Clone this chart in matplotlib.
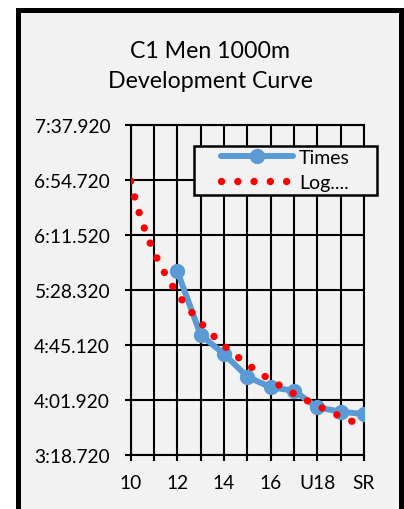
import matplotlib
matplotlib.use('Agg')
import matplotlib.pyplot as plt
import numpy as np
from matplotlib.patches import Rectangle
from matplotlib.ticker import FuncFormatter, FixedLocator

# ---- data ----
categories = ['10', '11', '12', '13', '14', '15', '16', '17', 'U18', 'U20', 'SR']
times_sec = [np.nan, np.nan, 343.0, 293.0, 278.0, 260.2, 251.9, 249.2, 236.1, 232.7, 230.9]
y_ticks_sec = [198.72, 241.92, 285.12, 328.32, 371.52, 414.72, 457.92]
title = "C1 Men 1000m\nDevelopment Curve"
series_label = "Times"
trend_label = "Log...."

FONT = ['Lato', 'DejaVu Sans']
plt.rcParams['font.family'] = FONT

W, H = 404, 510
fig = plt.figure(figsize=(W / 100, H / 100), dpi=100)
fig.patch.set_facecolor('white')

def fx(px):
    return px / W

def fy(py):
    return 1 - py / H

# chart area with thick border
fig.add_artist(Rectangle((fx(17.5), -0.05), fx(400.5) - fx(17.5), fy(10.8) + 0.05,
                         transform=fig.transFigure, facecolor='#F2F2F2',
                         edgecolor='black', linewidth=3.6, zorder=-1))

left, right, top, bottom = 130.7, 364.0, 126.0, 456.0
ax = fig.add_axes([fx(left), fy(bottom), fx(right) - fx(left), fy(top) - fy(bottom)])
ax.patch.set_visible(False)

x = np.arange(len(categories))
y = np.array(times_sec, dtype=float)

line_times, = ax.plot(x, y, color='#5B9BD5', lw=4.3, marker='o', ms=10,
                      solid_capstyle='round', label=series_label, zorder=3)

# logarithmic trendline (Excel style: x = 1..n)
mask = ~np.isnan(y)
xe = x[mask] + 1
coef = np.polyfit(np.log(xe), y[mask], 1)
xx = np.linspace(1, len(categories), 500)
yy = np.polyval(coef, np.log(xx))
line_trend, = ax.plot(xx - 1, yy, color='#FF0000', lw=5.3,
                      linestyle=(0, (0.01, 2.2)), dash_capstyle='round',
                      label=trend_label, zorder=4)

ax.set_xlim(0, len(categories) - 1)
ax.set_ylim(y_ticks_sec[0], y_ticks_sec[-1])
ax.yaxis.set_major_locator(FixedLocator(y_ticks_sec))
ax.xaxis.set_major_locator(FixedLocator(x))

def fmt_time(v, pos=None):
    m = int(v // 60)
    s = v - 60 * m
    return f"{m}:{s:06.3f}"

ax.yaxis.set_major_formatter(FuncFormatter(fmt_time))
ax.set_xticklabels([c if i % 2 == 0 else '' for i, c in enumerate(categories)])

ax.grid(True, color='black', lw=1.5, zorder=1)
ax.set_axisbelow(True)
for sp in ax.spines.values():
    sp.set_color('black')
    sp.set_linewidth(1.5)

ax.tick_params(axis='y', direction='out', length=4, width=1.5, pad=10.8,
               labelsize=13.8, colors='black')
ax.tick_params(axis='x', direction='out', length=4, width=1.5, pad=10,
               labelsize=13.8, colors='black')

fig.text(fx(210.5), fy(66.5), title, ha='center', va='center', fontsize=16.7,
         linespacing=1.58, color='black')

# legend box
fig.add_artist(Rectangle((fx(194), fy(195.5)), fx(376.5) - fx(194), fy(147) - fy(195.5),
                         transform=fig.transFigure, facecolor='#F2F2F2',
                         edgecolor='black', linewidth=1.8, zorder=4))
fs_px = 14 * 100 / 72
fig.legend([line_times, line_trend], [series_label, trend_label],
           loc='upper left', bbox_to_anchor=(fx(221), fy(149.5)),
           bbox_transform=fig.transFigure, frameon=False, borderpad=0,
           borderaxespad=0, handlelength=72 / fs_px, handletextpad=6 / fs_px,
           labelspacing=0.45, fontsize=14).set_zorder(5)

fig.savefig('out.png', dpi=100)
